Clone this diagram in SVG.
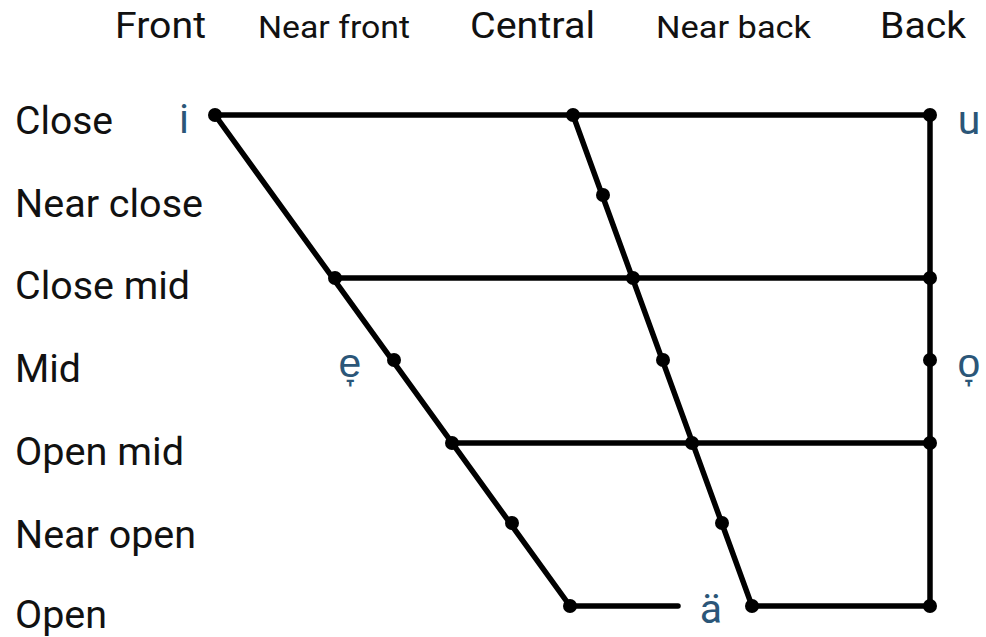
<svg xmlns="http://www.w3.org/2000/svg" width="986" height="637" viewBox="0 0 986 637">
<style>
.hdr{font-family:Roboto,"Liberation Sans",sans-serif;fill:#111}
.row{font-family:Roboto,"Liberation Sans",sans-serif;font-size:38px;fill:#111}
.v{font-family:Roboto,"Liberation Sans",sans-serif;font-size:41px;fill:#2b5678}
.ln{stroke:#000;stroke-width:5.5;fill:none;stroke-linecap:round}
.dot{fill:#000}
</style>
<rect width="986" height="637" fill="#fff"/>
<g id="headers">
<text class="hdr" x="115" y="38" font-size="37" textLength="91" lengthAdjust="spacingAndGlyphs">Front</text>
<text class="hdr" x="258" y="38" font-size="32" textLength="152" lengthAdjust="spacingAndGlyphs">Near front</text>
<text class="hdr" x="470" y="38" font-size="37" textLength="125" lengthAdjust="spacingAndGlyphs">Central</text>
<text class="hdr" x="656" y="38" font-size="32" textLength="155" lengthAdjust="spacingAndGlyphs">Near back</text>
<text class="hdr" x="880" y="38" font-size="37" textLength="86" lengthAdjust="spacingAndGlyphs">Back</text>
</g>
<g id="rows">
<text class="row" x="15" y="134" textLength="98" lengthAdjust="spacingAndGlyphs">Close</text>
<text class="row" x="15" y="217" textLength="188" lengthAdjust="spacingAndGlyphs">Near close</text>
<text class="row" x="15" y="299" textLength="175" lengthAdjust="spacingAndGlyphs">Close mid</text>
<text class="row" x="15" y="382" textLength="66" lengthAdjust="spacingAndGlyphs">Mid</text>
<text class="row" x="15" y="465" textLength="169" lengthAdjust="spacingAndGlyphs">Open mid</text>
<text class="row" x="15" y="548" textLength="181" lengthAdjust="spacingAndGlyphs">Near open</text>
<text class="row" x="15" y="628" textLength="92" lengthAdjust="spacingAndGlyphs">Open</text>
</g>
<g id="connectors">
<line class="ln" x1="215" y1="115" x2="930" y2="115"/>
<line class="ln" x1="215" y1="115" x2="570" y2="606"/>
<line class="ln" x1="573" y1="115" x2="752" y2="606"/>
<line class="ln" x1="930" y1="115" x2="930" y2="606"/>
<line class="ln" x1="335" y1="278" x2="930" y2="278"/>
<line class="ln" x1="452" y1="443" x2="930" y2="443"/>
<line class="ln" x1="570" y1="606" x2="678" y2="606"/>
<line class="ln" x1="752" y1="606" x2="930" y2="606"/>
</g>
<g id="points">
<circle class="dot" cx="215" cy="115" r="7"/>
<circle class="dot" cx="573" cy="115" r="7"/>
<circle class="dot" cx="930" cy="115" r="7"/>
<circle class="dot" cx="603" cy="195" r="7"/>
<circle class="dot" cx="335" cy="278" r="7"/>
<circle class="dot" cx="633" cy="278" r="7"/>
<circle class="dot" cx="930" cy="278" r="7"/>
<circle class="dot" cx="394" cy="360" r="7"/>
<circle class="dot" cx="663" cy="360" r="7"/>
<circle class="dot" cx="930" cy="360" r="7"/>
<circle class="dot" cx="452" cy="443" r="7"/>
<circle class="dot" cx="692" cy="443" r="7"/>
<circle class="dot" cx="930" cy="443" r="7"/>
<circle class="dot" cx="512" cy="523" r="7"/>
<circle class="dot" cx="722" cy="523" r="7"/>
<circle class="dot" cx="570" cy="606" r="7"/>
<circle class="dot" cx="752" cy="606" r="7"/>
<circle class="dot" cx="930" cy="606" r="7"/>
</g>
<g id="vowels">
<text class="v" x="184" y="133" text-anchor="middle">i</text>
<text class="v" x="969" y="134" text-anchor="middle">u</text>
<text class="v" x="350" y="377" text-anchor="middle">e̞</text>
<text class="v" x="969" y="377" text-anchor="middle">o̞</text>
<text class="v" x="711" y="623" text-anchor="middle">ä</text>
</g>
</svg>
